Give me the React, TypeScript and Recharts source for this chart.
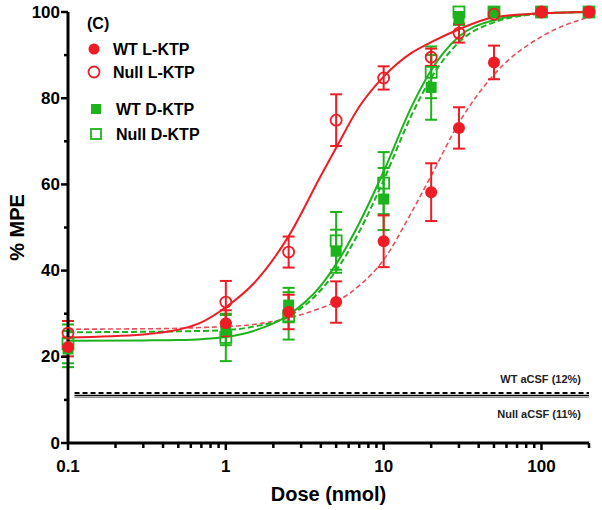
import React from 'react'
import { ComposedChart, Line, Scatter, ErrorBar, XAxis, YAxis, ReferenceLine } from 'recharts'

const RED = '#ee1c24'
const RED_DASH = '#e8505a'
const GREEN = '#1db31d'
const FONT = 'Arial, "Liberation Sans", sans-serif'

// measured doses (nmol)
const doses = [0.1, 1, 2.5, 5, 10, 20, 30, 50, 100, 200]

// % MPE means and SEM
const wtL = [22.3, 27.8, 30.4, 32.7, 46.8, 58.2, 73.1, 88.3, 100, 100]
const wtLErr = [2.2, 3, 4, 4.8, 6, 6.7, 4.8, 3.9, 0, 0]
const nullL = [25.5, 32.7, 44.3, 74.9, 84.7, 89.5, 95.1, 99.5, 100, 100]
const nullLErr = [2.8, 4.9, 3.6, 6, 2.7, 2, 2.2, 0, 0, 0]
const wtD = [21.8, 26.2, 32, 44.5, 56.6, 82.5, 98.5, 100, 100, 100]
const wtDErr = [4.2, 3.5, 4, 5, 7.2, 7.5, 1.5, 0, 0, 0]
const nullD = [23, 24.5, 29.5, 46.9, 60.3, 86, 100, 100, 100, 100]
const nullDErr = [4.5, 5.5, 5.5, 6.7, 7.2, 6, 0, 0, 0, 0]

// fitted curves
const fitDoses = [0.1, 0.3, 0.5, 0.7, 1, 1.5, 2.5, 4, 5, 7, 10, 15, 20, 30, 50, 100, 200]
const nullLFit = [24.5, 25.2, 26.3, 28, 31.5, 37, 48, 62, 68.5, 78, 85, 90.5, 93, 96, 98.8, 99.7, 100]
const wtLFit = [26.4, 26.5, 26.6, 26.8, 27, 27.5, 29, 31.3, 32.8, 36.5, 42.5, 53.5, 62, 74.3, 85.5, 94.3, 98.8]
const wtDFit = [23.7, 23.8, 23.9, 24.1, 24.6, 26, 29.7, 36.5, 41.5, 51, 63, 78, 86.5, 94.3, 98.1, 99.7, 100]
const nullDFit = [25.7, 25.8, 25.9, 26, 26.2, 27, 29.4, 35.5, 40, 49, 61, 76, 84.7, 93, 97.6, 99.6, 100]

// aCSF baselines
const wtCsf = 11.6
const nullCsf = 11.0

const xTicks = [0.1, 0.2, 0.3, 0.4, 0.5, 0.6, 0.7, 0.8, 0.9, 1, 2, 3, 4, 5, 6, 7, 8, 9, 10, 20, 30, 40, 50, 60, 70, 80, 90, 100, 200]
const xLabels = [0.1, 1, 10, 100]
const yTicks = [0, 10, 20, 30, 40, 50, 60, 70, 80, 90, 100]
const yLabels = [0, 20, 40, 60, 80, 100]

const pts = (ys: number[], errs: number[]) => doses.map((d, i) => ({ dose: d, y: ys[i], err: errs[i] }))
const fit = (ys: number[]) => fitDoses.map((d, i) => ({ dose: d, y: ys[i] }))

const XTick = (props: any) => {
  const { x, y, payload } = props
  const v = payload.value
  const major = xLabels.includes(v)
  return (
    <g>
      <line x1={x} x2={x} y1={y} y2={y + (major ? 7 : 5)} stroke="#000" strokeWidth={2.5} />
      {major && (
        <text x={x} y={y + 29} textAnchor="middle" fontSize={17} fontWeight="bold" fontFamily={FONT} fill="#000">
          {v}
        </text>
      )}
    </g>
  )
}

const YTick = (props: any) => {
  const { x, y, payload } = props
  const v = payload.value
  const major = yLabels.includes(v)
  return (
    <g>
      <line x1={x} x2={x - (major ? 7 : 4)} y1={y} y2={y} stroke="#000" strokeWidth={2.5} />
      {major && (
        <text x={x - 8} y={y} textAnchor="end" dominantBaseline="central" fontSize={17} fontWeight="bold" fontFamily={FONT} fill="#000">
          {v}
        </text>
      )}
    </g>
  )
}

const CsfLabel = (props: any) => {
  const { viewBox, text, above } = props
  const x = viewBox.x + viewBox.width - 8
  const y = above ? viewBox.y - 10 : viewBox.y + 22
  return (
    <text x={x} y={y} textAnchor="end" fontSize={11} fontWeight="bold" fontFamily={FONT} fill="#222">
      {text}
    </text>
  )
}

const filledCircle = (p: any) => <circle cx={p.cx} cy={p.cy} r={6} fill={RED} />
const openCircle = (p: any) => <circle cx={p.cx} cy={p.cy} r={5.5} fill="none" stroke={RED} strokeWidth={1.8} />
const filledSquare = (p: any) => <rect x={p.cx - 5.5} y={p.cy - 5.5} width={11} height={11} fill={GREEN} />
const openSquare = (p: any) => <rect x={p.cx - 5.5} y={p.cy - 5.5} width={11} height={11} fill="none" stroke={GREEN} strokeWidth={1.8} />

export default function App() {
  return (
    <div style={{ position: 'absolute', left: 0, top: 0, width: 602, height: 510, background: '#fff' }}>
      <ComposedChart width={602} height={510} margin={{ top: 12, right: 13, left: 0, bottom: 0 }}>
        <XAxis
          type="number"
          dataKey="dose"
          scale="log"
          domain={[0.1, 200]}
          ticks={xTicks}
          interval={0}
          tick={<XTick />}
          tickLine={false}
          tickSize={0}
          tickMargin={0}
          axisLine={{ stroke: '#000', strokeWidth: 3 }}
          height={67}
          label={{ value: 'Dose (nmol)', position: 'center', dy: 17, fontSize: 20, fontWeight: 'bold', fontFamily: FONT, fill: '#000' }}
        />
        <YAxis
          type="number"
          dataKey="y"
          domain={[0, 100]}
          ticks={yTicks}
          interval={0}
          tick={<YTick />}
          tickLine={false}
          tickSize={0}
          tickMargin={0}
          axisLine={{ stroke: '#000', strokeWidth: 3 }}
          width={68}
          label={{ value: '% MPE', angle: -90, position: 'center', dx: -17, fontSize: 20, fontWeight: 'bold', fontFamily: FONT, fill: '#000' }}
        />

        <ReferenceLine
          segment={[{ x: 0.11, y: wtCsf }, { x: 200, y: wtCsf }]}
          stroke="#000"
          strokeWidth={2}
          strokeDasharray="5 3"
          label={<CsfLabel text="WT aCSF (12%)" above />}
        />
        <ReferenceLine
          segment={[{ x: 0.11, y: nullCsf }, { x: 200, y: nullCsf }]}
          stroke="#000"
          strokeWidth={1.5}
          label={<CsfLabel text="Null aCSF (11%)" />}
        />
        <ReferenceLine segment={[{ x: 0.11, y: 10.6 }, { x: 200, y: 10.6 }]} stroke="#777" strokeWidth={1} />

        <Line data={fit(wtLFit)} dataKey="y" type="monotone" dot={false} stroke={RED_DASH} strokeWidth={1.6} strokeDasharray="5 3" isAnimationActive={false} />
        <Line data={fit(nullDFit)} dataKey="y" type="monotone" dot={false} stroke={GREEN} strokeWidth={2} strokeDasharray="6 3" isAnimationActive={false} />
        <Line data={fit(wtDFit)} dataKey="y" type="monotone" dot={false} stroke={GREEN} strokeWidth={2} isAnimationActive={false} />
        <Line data={fit(nullLFit)} dataKey="y" type="monotone" dot={false} stroke={RED} strokeWidth={2} isAnimationActive={false} />

        <Scatter data={pts(wtD, wtDErr)} shape={filledSquare} isAnimationActive={false}>
          <ErrorBar dataKey="err" direction="y" width={6} stroke={GREEN} strokeWidth={2} />
        </Scatter>
        <Scatter data={pts(nullD, nullDErr)} shape={openSquare} isAnimationActive={false}>
          <ErrorBar dataKey="err" direction="y" width={6} stroke={GREEN} strokeWidth={2} />
        </Scatter>
        <Scatter data={pts(nullL, nullLErr)} shape={openCircle} isAnimationActive={false}>
          <ErrorBar dataKey="err" direction="y" width={6} stroke={RED} strokeWidth={2} />
        </Scatter>
        <Scatter data={pts(wtL, wtLErr)} shape={filledCircle} isAnimationActive={false}>
          <ErrorBar dataKey="err" direction="y" width={6} stroke={RED} strokeWidth={2} />
        </Scatter>
      </ComposedChart>

      <svg width={602} height={510} style={{ position: 'absolute', left: 0, top: 0, pointerEvents: 'none' }}>
        <g fontFamily={FONT} fontWeight="bold" fontSize={16} fill="#000">
          <text x={87} y={23} dominantBaseline="central">(C)</text>
          <circle cx={94} cy={49} r={5.5} fill={RED} />
          <text x={113} y={49} dominantBaseline="central">WT L-KTP</text>
          <circle cx={94} cy={72} r={5.5} fill="none" stroke={RED} strokeWidth={1.8} />
          <text x={113} y={72} dominantBaseline="central">Null L-KTP</text>
          <rect x={91} y={104} width={10} height={10} fill={GREEN} />
          <text x={116} y={109} dominantBaseline="central">WT D-KTP</text>
          <rect x={91} y={129} width={10} height={10} fill="none" stroke={GREEN} strokeWidth={1.8} />
          <text x={116} y={134} dominantBaseline="central">Null D-KTP</text>
        </g>
      </svg>
    </div>
  )
}
